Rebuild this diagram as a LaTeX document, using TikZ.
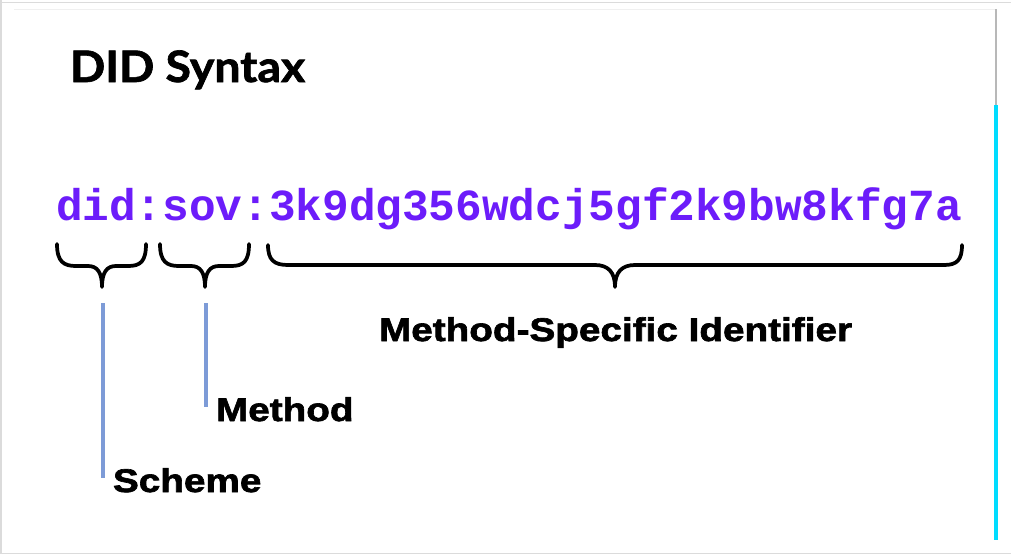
\documentclass[tikz,border=0pt]{standalone}
\usepackage{fontspec}
\newfontfamily\titlefont{Lato Bold}[FakeBold=1.6, FakeStretch=1.07]
\newfontfamily\labfont{Liberation Sans Bold}[FakeBold=2, FakeStretch=1.18]
\newfontfamily\didfont{Liberation Mono}
\definecolor{didpurple}{RGB}{108,28,250}
\definecolor{leadblue}{RGB}{125,155,215}
\definecolor{scrollcyan}{RGB}{0,220,255}
\begin{document}
\begin{tikzpicture}[x=0.75pt,y=-0.75pt,
  txt/.style={inner sep=0pt, outer sep=0pt, anchor=base west},
  bracepath/.style={draw=black, line width=2.8pt, line cap=round, line join=round},
  leader/.style={draw=leadblue, line width=2.3pt},
  framepart/.style={draw=black!14, line width=1.2pt}]
\useasboundingbox (0,0) rectangle (1011,557);
\fill[white] (0,0) rectangle (1011,557);
% screen frame
\draw[framepart] (0,2.5) -- (1011,2.5);
\draw[framepart] (1,0) -- (1,553);
\draw[framepart] (0,553.5) -- (1011,553.5);
\draw[draw=black!6, line width=1pt] (14,9.5) -- (995,9.5);
\draw[draw=black!28, line width=2.2pt] (996,9) -- (996,105);
\draw[draw=scrollcyan, line width=2.4pt] (996,105) -- (996,540);
% title
\node[txt, font=\titlefont\fontsize{32.5}{38}\selectfont] (title) at (70,82) {DID Syntax};
% DID string
\node[txt, text=didpurple, font=\didfont\bfseries\fontsize{33.3}{40}\selectfont] (did) at (56,220) {did:sov:3k9dg356wdcj5gf2k9bw8kfg7a};
% braces
\draw[bracepath] (57,244) .. controls (57,262) and (64,266) .. (76,266) -- (88,266)
  .. controls (97,266) and (102,272) .. (102,287)
  .. controls (102,272) and (107,266) .. (116,266) -- (128,266)
  .. controls (140,266) and (146,262) .. (146,244);
\draw[bracepath] (160,244) .. controls (160,262) and (167,266) .. (179,266) -- (191,266)
  .. controls (200,266) and (205,272) .. (205,287)
  .. controls (205,272) and (210,266) .. (219,266) -- (231,266)
  .. controls (243,266) and (249,262) .. (249,244);
\draw[bracepath] (268,245) .. controls (268,260) and (274,265) .. (288,265) -- (595,265)
  .. controls (608,265) and (615,272) .. (615,287)
  .. controls (615,272) and (622,265) .. (635,265) -- (944,265)
  .. controls (957,265) and (962,260) .. (962,245);
% labels
\node[txt, font=\labfont\fontsize{24.6}{30}\selectfont] (msi) at (379,341) {Method-Specific Identifier};
\node[txt, font=\labfont\fontsize{24.6}{30}\selectfont] (method) at (216,421) {Method};
\node[txt, font=\labfont\fontsize{24.6}{30}\selectfont] (scheme) at (113,492) {Scheme};
% leader lines
\coordinate (schemeTop) at (103,303);
\coordinate (schemeBot) at (103,478);
\coordinate (methodTop) at (206,303);
\coordinate (methodBot) at (206,407);
\draw[leader] (schemeTop) -- (schemeBot);
\draw[leader] (methodTop) -- (methodBot);
\end{tikzpicture}
\end{document}
